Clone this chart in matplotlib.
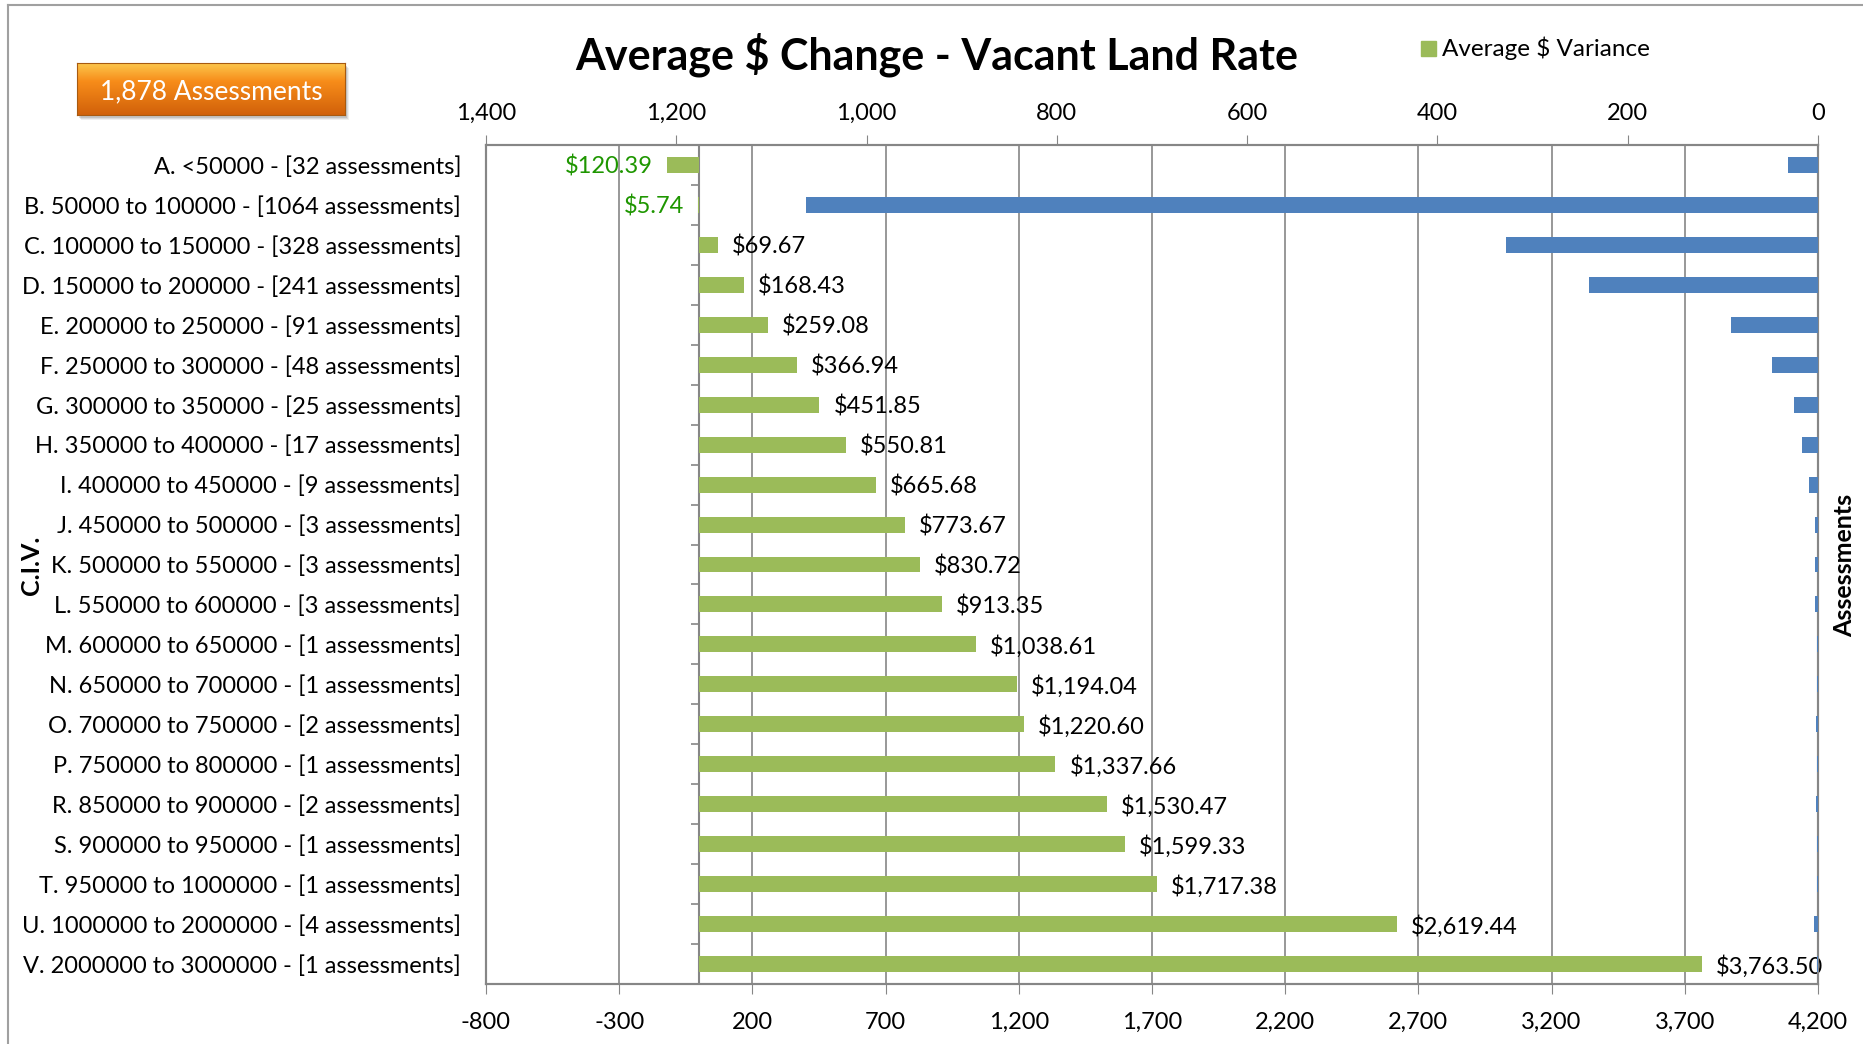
import numpy as np
import matplotlib.pyplot as plt
from matplotlib.markers import TICKLEFT
from matplotlib.ticker import FuncFormatter
from matplotlib.patches import Rectangle
from matplotlib.lines import Line2D

plt.rcParams['font.family'] = ['Lato', 'DejaVu Sans']

# C.I.V. bands, number of assessments and average $ variance per band
bands = ["A. <50000", "B. 50000 to 100000", "C. 100000 to 150000",
         "D. 150000 to 200000", "E. 200000 to 250000", "F. 250000 to 300000",
         "G. 300000 to 350000", "H. 350000 to 400000", "I. 400000 to 450000",
         "J. 450000 to 500000", "K. 500000 to 550000", "L. 550000 to 600000",
         "M. 600000 to 650000", "N. 650000 to 700000", "O. 700000 to 750000",
         "P. 750000 to 800000", "R. 850000 to 900000", "S. 900000 to 950000",
         "T. 950000 to 1000000", "U. 1000000 to 2000000", "V. 2000000 to 3000000"]
assessments = [32, 1064, 328, 241, 91, 48, 25, 17, 9, 3, 3, 3, 1, 1, 2, 1, 2, 1, 1, 4, 1]
avg_variance = [-120.39, -5.74, 69.67, 168.43, 259.08, 366.94, 451.85, 550.81,
                665.68, 773.67, 830.72, 913.35, 1038.61, 1194.04, 1220.60,
                1337.66, 1530.47, 1599.33, 1717.38, 2619.44, 3763.50]
total_assessments = 1878

green = "#9BBB59"
blue = "#4F81BD"
grey = "#868686"
fs = 17

labels = [f"{b} - [{n} assessments]" for b, n in zip(bands, assessments)]
y = np.arange(len(bands))

fig = plt.figure(figsize=(18.63, 10.44), dpi=100)
ax = fig.add_axes([486 / 1863, 60 / 1044, 1332 / 1863, 839 / 1044])

# green bars: average $ variance (bottom axis)
ax.barh(y, avg_variance, height=0.4, color=green, zorder=3)
for yi, v in zip(y, avg_variance):
    txt = f"${abs(v):,.2f}"
    if v < 0:
        ax.annotate(txt, (v, yi), xytext=(-10, 0), textcoords="offset points",
                    ha="right", va="center_baseline", fontsize=fs, color="#1E9600")
    else:
        ax.annotate(txt, (v, yi), xytext=(10, 0), textcoords="offset points",
                    ha="left", va="center_baseline", fontsize=fs, color="black")

ax.set_xlim(-800, 4200)
ax.set_xticks(np.arange(-800, 4201, 500))
ax.xaxis.set_major_formatter(FuncFormatter(lambda v, p: f"{int(v):,}"))
ax.set_ylim(len(bands) - 0.5, -0.5)
ax.set_yticks(y)
ax.set_yticklabels(labels, fontsize=fs)
ax.tick_params(axis="y", length=0, pad=18)
ax.tick_params(axis="x", direction="out", length=7, color=grey, labelsize=fs, pad=13)
ax.grid(axis="x", color=grey, linewidth=1.2, zorder=0)
ax.set_axisbelow(True)

# zero line of the variance series with category ticks
ax.axvline(0, color=grey, linewidth=1.5, zorder=2)
ax.plot(np.zeros(len(bands) + 1), np.arange(len(bands) + 1) - 0.5, ls="none",
        marker=TICKLEFT, ms=6, mew=1.2, color=grey, zorder=2)

for s in ax.spines.values():
    s.set_color(grey)
    s.set_linewidth(1.5)

# blue bars: number of assessments (top axis, reversed)
ax2 = ax.twiny()
ax2.barh(y, assessments, height=0.4, color=blue, zorder=3)
ax2.set_xlim(1400, 0)
ax2.set_xticks(np.arange(0, 1401, 200))
ax2.xaxis.set_major_formatter(FuncFormatter(lambda v, p: f"{int(v):,}"))
ax2.tick_params(axis="x", direction="out", length=7, color=grey, labelsize=fs, pad=8)
for s in ax2.spines.values():
    s.set_color(grey)
    s.set_linewidth(1.5)

fig.text(937 / 1863, 1 - 55 / 1044, "Average $ Change - Vacant Land Rate",
         ha="center", va="center", fontsize=31, fontweight="bold")
fig.text(32 / 1863, 1 - 565 / 1044, "C.I.V.", rotation=90, ha="center",
         va="center", fontsize=18, fontweight="bold")
fig.text(1845 / 1863, 1 - 565 / 1044, "Assessments", rotation=90, ha="center",
         va="center", fontsize=18, fontweight="bold")

# legend
fig.patches.append(Rectangle((1421 / 1863, 1 - 56 / 1044), 15 / 1863, 15 / 1044,
                             transform=fig.transFigure, color=green))
fig.text(1442 / 1863, 1 - 48 / 1044, "Average $ Variance", ha="left",
         va="center", fontsize=17.5)

# total assessments badge with a soft drop shadow
for k, a in enumerate([0.25, 0.18, 0.12]):
    fig.patches.append(Rectangle(((79 + k) / 1863, 1 - (118 + k) / 1044),
                                 268 / 1863, 52 / 1044, transform=fig.transFigure,
                                 color="#808080", alpha=a, lw=0, zorder=-1))
bax = fig.add_axes([77 / 1863, 1 - 115 / 1044, 268 / 1863, 52 / 1044], zorder=5)
grad = np.linspace(0, 1, 100)
c_top = np.array([0.99, 0.78, 0.30])
c_mid = np.array([0.97, 0.55, 0.10])
c_bot = np.array([0.82, 0.38, 0.04])
cols = np.where(grad[:, None] < 0.35,
                c_top + (c_mid - c_top) * (grad[:, None] / 0.35),
                c_mid + (c_bot - c_mid) * ((grad[:, None] - 0.35) / 0.65))
bax.imshow(np.repeat(cols[:, None, :], 10, axis=1), aspect="auto",
           extent=[0, 1, 0, 1])
bax.set_xticks([])
bax.set_yticks([])
for s in bax.spines.values():
    s.set_color("#a85a10")
bax.text(0.5, 0.45, f"{total_assessments:,} Assessments", ha="center",
         va="center", color="white", fontsize=19, transform=bax.transAxes)

# chart frame
fig.add_artist(Line2D([8 / 1863, 8 / 1863], [0, 1 - 5 / 1044],
                      transform=fig.transFigure, color="#a0a0a0", lw=1.5))
fig.add_artist(Line2D([8 / 1863, 1], [1 - 5 / 1044, 1 - 5 / 1044],
                      transform=fig.transFigure, color="#a0a0a0", lw=1.5))

fig.savefig("out.png", dpi=100)
